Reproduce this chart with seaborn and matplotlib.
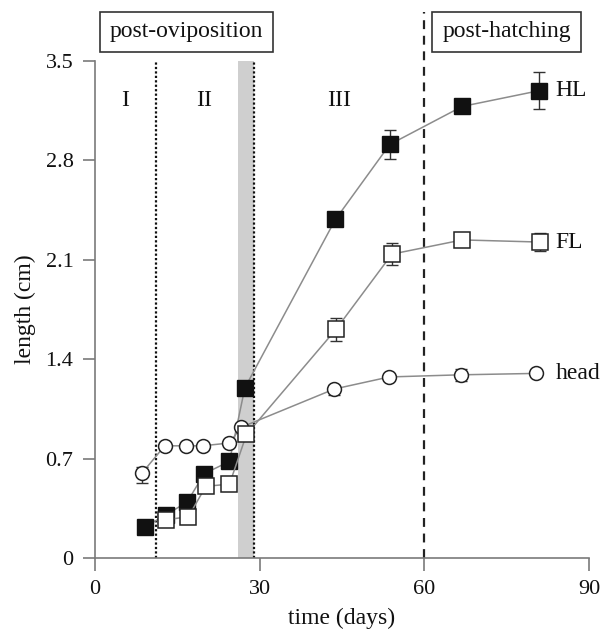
import matplotlib
matplotlib.use('Agg')
import matplotlib.pyplot as plt
import matplotlib.transforms as mtransforms
import seaborn as sns
import pandas as pd
import numpy as np

# ---- data ----
head_days = [8.6, 12.7, 16.5, 19.6, 24.5, 26.6, 43.6, 53.6, 66.6, 80.4]
head_len = [0.60, 0.79, 0.79, 0.79, 0.81, 0.92, 1.19, 1.275, 1.29, 1.30]
head_err_lo = [0.07, 0, 0, 0, 0, 0, 0.04, 0.0, 0.04, 0]
head_err_hi = [0.04, 0, 0, 0, 0, 0, 0.03, 0.0, 0.04, 0]

hl_days = [9.1, 13.0, 16.8, 19.9, 24.5, 27.3, 43.8, 53.7, 66.9, 80.8]
hl_len = [0.22, 0.305, 0.395, 0.594, 0.68, 1.198, 2.384, 2.912, 3.18, 3.29]
hl_err = [0, 0.02, 0, 0, 0, 0, 0.03, 0.105, 0.045, 0.13]

fl_days = [13.0, 17.0, 20.2, 24.5, 27.6, 43.9, 54.1, 66.9, 81.0]
fl_len = [0.27, 0.29, 0.505, 0.52, 0.87, 1.61, 2.14, 2.24, 2.225]
fl_err = [0, 0, 0, 0, 0, 0.08, 0.08, 0.02, 0.065]

phase_lines = [11.1, 28.9]
band = [26.1, 28.9]
hatch_day = 60
phase_labels = ['I', 'II', 'III']
phase_label_x = [5.5, 19.9, 44.4]
xticks = [0, 30, 60, 90]
yticks = [0, 0.7, 1.4, 2.1, 2.8, 3.5]
ytick_labels = ['0', '0.7', '1.4', '2.1', '2.8', '3.5']

sns.set_style('ticks')
plt.rcParams['font.family'] = ['Liberation Serif', 'DejaVu Serif']

fig = plt.figure(figsize=(6.03, 6.29), dpi=100)
ax = fig.add_axes([95/603, 1-558/629, (589-95)/603, (558-61)/629])

FS = 17
TFS = 16
LINE_C = '#8c8c8c'
SPINE_C = '#7a7a7a'

# band and phase lines
ax.axvspan(band[0], band[1], color='#cfcfcf', lw=0, zorder=0)
for d in phase_lines:
    ax.axvline(d, color='#111111', lw=1.6, ls=(0, (1, 1)), zorder=1)
ax.axvline(hatch_day, ymin=0, ymax=(558-12)/497, color='#222222', lw=1.6,
           ls=(0, (4, 3)), clip_on=False, zorder=1)

# error bars
ax.errorbar(hl_days, hl_len, yerr=hl_err, fmt='none', ecolor='#333333',
            elinewidth=1.0, capsize=4.5, capthick=1.0, zorder=2)
ax.errorbar(fl_days, fl_len, yerr=fl_err, fmt='none', ecolor='#333333',
            elinewidth=1.0, capsize=4.5, capthick=1.0, zorder=2)
ax.errorbar(head_days, head_len, yerr=[head_err_lo, head_err_hi], fmt='none',
            ecolor='#333333', elinewidth=1.0, capsize=4.5, capthick=1.0, zorder=2)

# series
hl_df = pd.DataFrame({'day': hl_days, 'len': hl_len})
fl_df = pd.DataFrame({'day': fl_days, 'len': fl_len})
head_df = pd.DataFrame({'day': head_days, 'len': head_len})

sns.lineplot(data=hl_df, x='day', y='len', ax=ax, estimator=None, sort=False,
             color=LINE_C, lw=1.1, marker='s', markersize=12,
             markerfacecolor='#111111', markeredgecolor='#111111',
             markeredgewidth=1.0, zorder=3)
sns.lineplot(data=head_df, x='day', y='len', ax=ax, estimator=None, sort=False,
             color=LINE_C, lw=1.1, marker='o', markersize=10,
             markerfacecolor='white', markeredgecolor='#222222',
             markeredgewidth=1.1, zorder=4)
sns.lineplot(data=fl_df, x='day', y='len', ax=ax, estimator=None, sort=False,
             color=LINE_C, lw=1.1, marker='s', markersize=11,
             markerfacecolor='white', markeredgecolor='#222222',
             markeredgewidth=1.1, zorder=5)

# axes styling
ax.set_xlim(0, 90)
ax.set_ylim(0, 3.5)
ax.set_xticks(xticks)
ax.set_xticklabels([str(t) for t in xticks])
ax.set_yticks(yticks)
ax.set_yticklabels(ytick_labels)
sns.despine(ax=ax)
for s in ['left', 'bottom']:
    ax.spines[s].set_color(SPINE_C)
    ax.spines[s].set_linewidth(1.2)
ax.tick_params(axis='both', direction='out', length=9, width=1.2,
               color=SPINE_C, labelsize=TFS, pad=6.5, labelcolor='#111111')
ax.set_xlabel('time (days)', fontsize=FS, color='#111111', labelpad=7)
ax.set_ylabel('length (cm)', fontsize=FS, color='#111111', labelpad=7)

# phase labels
for lab, x in zip(phase_labels, phase_label_x):
    ax.text(x, 3.225, lab, fontsize=FS, ha='center', va='center', color='#111111')

# series labels
ax.text(83.9, hl_len[-1], 'HL', fontsize=FS, ha='left', va='center', color='#111111')
ax.text(83.9, fl_len[-1], 'FL', fontsize=FS, ha='left', va='center', color='#111111')
ax.text(83.9, head_len[-1], 'head', fontsize=FS, ha='left', va='center', color='#111111')

# boxed period labels
trans = mtransforms.blended_transform_factory(ax.transData, ax.transAxes)
box = dict(boxstyle='square,pad=0.42', fc='white', ec='#333333', lw=1.2)
ax.text(16.7, (558-32)/497, 'post-oviposition', transform=trans, fontsize=FS,
        ha='center', va='center', bbox=box, color='#111111', clip_on=False)
ax.text(75.0, (558-32)/497, 'post-hatching', transform=trans, fontsize=FS,
        ha='center', va='center', bbox=box, color='#111111', clip_on=False)

fig.savefig('out.png', dpi=100)
